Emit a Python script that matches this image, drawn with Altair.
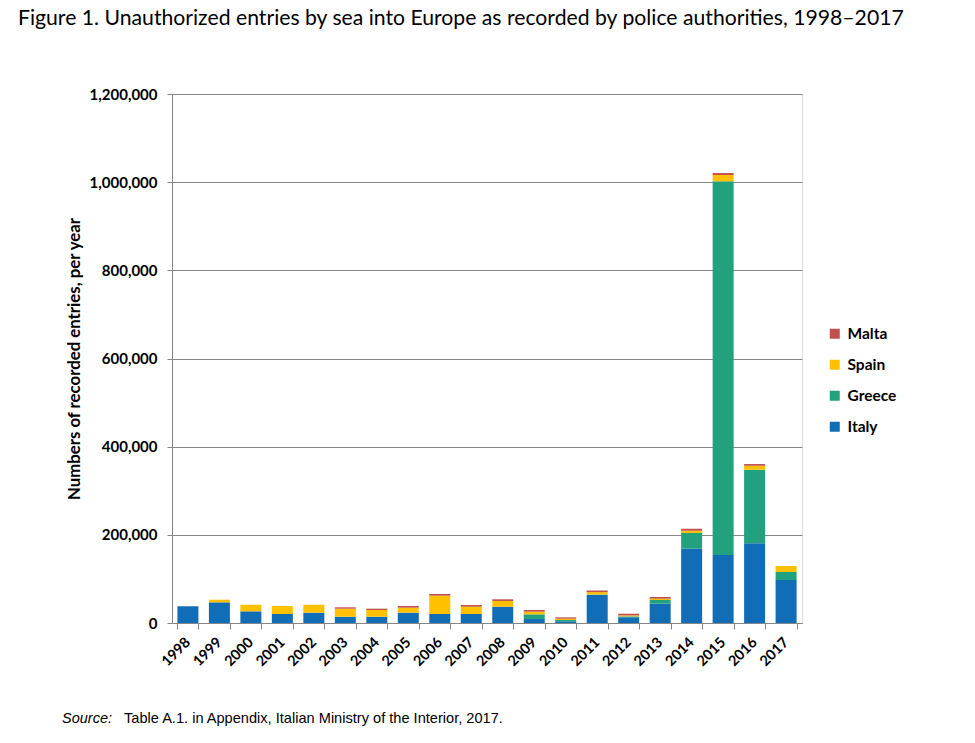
import altair as alt
import pandas as pd

years = [str(y) for y in range(1998, 2018)]
italy = [38000, 46900, 26500, 20400, 23400, 14300, 14300, 23400, 20400, 20400,
         37000, 9000, 3900, 63500, 13000, 43800, 168500, 154200, 180700, 97500]
greece = [0, 0, 0, 0, 0, 0, 0, 0, 0, 0,
          0, 10700, 2900, 1000, 2000, 8400, 35600, 847700, 167000, 18200]
spain = [0, 5900, 15000, 18100, 18100, 18200, 15200, 11400, 41600, 16600,
         13000, 6000, 3000, 5500, 2200, 3000, 5300, 14300, 9100, 13600]
malta = [0, 0, 0, 0, 0, 3100, 3000, 3700, 3800, 3800,
         3700, 3800, 3000, 3700, 3800, 3800, 4500, 4500, 3800, 0]

countries = ["Italy", "Greece", "Spain", "Malta"]
series = {"Italy": italy, "Greece": greece, "Spain": spain, "Malta": malta}
legend_order = ["Malta", "Spain", "Greece", "Italy"]
colors = ["#C0504D", "#FFC000", "#22A17F", "#116EB6"]

rows = []
for ci, c in enumerate(countries):
    for y, v in zip(years, series[c]):
        rows.append({"year": y, "country": c, "value": v, "ord": ci})
df = pd.DataFrame(rows)

FONT = "Lato"

bars = alt.Chart(df).mark_bar(size=21).encode(
    x=alt.X("year:N", sort=years, title=None,
            scale=alt.Scale(paddingInner=0.33, paddingOuter=0.17),
            axis=alt.Axis(labelAngle=-45, labelAlign="right", labelBaseline="middle",
                          labelFont=FONT, labelFontWeight="bold", labelFontSize=14.5,
                          labelColor="#000000", domainColor="#868686", tickColor="#868686",
                          tickSize=6, tickBand="extent", labelPadding=11)),
    y=alt.Y("value:Q", title="Numbers of recorded entries, per year",
            scale=alt.Scale(domain=[0, 1200000], nice=False),
            axis=alt.Axis(values=[0, 200000, 400000, 600000, 800000, 1000000, 1200000],
                          labelExpr="format(datum.value, ',')",
                          labelFont=FONT, labelFontWeight="bold",
                          labelFontSize=15, labelColor="#000000",
                          titleFont=FONT, titleFontWeight="bold", titleFontSize=16.8,
                          titleColor="#000000", titlePadding=6,
                          domainColor="#868686", tickColor="#868686", tickSize=5,
                          grid=True, gridColor="#868686", gridWidth=1, labelPadding=10)),
    color=alt.Color("country:N",
                    scale=alt.Scale(domain=legend_order, range=colors),
                    legend=alt.Legend(title=None, orient="none", legendX=655, legendY=232,
                                      symbolType="square", symbolSize=100,
                                      symbolStrokeWidth=0, labelFont=FONT,
                                      labelFontWeight="bold", labelFontSize=15.5,
                                      labelColor="#000000", rowPadding=14,
                                      labelOffset=5)),
    order=alt.Order("ord:Q", sort="ascending"),
)

src_df = pd.DataFrame({"t": ["Source:"]})
src1 = alt.Chart(src_df).mark_text(
    font="Liberation Sans", fontSize=14.5, fontStyle="italic", align="left",
    baseline="middle", color="#000000"
).encode(x=alt.value(-110), y=alt.value(625), text="t:N")

src_df2 = pd.DataFrame({"t": ["Table A.1. in Appendix, Italian Ministry of the Interior, 2017."]})
src2 = alt.Chart(src_df2).mark_text(
    font="Liberation Sans", fontSize=14.6, align="left", baseline="middle", color="#000000"
).encode(x=alt.value(-48), y=alt.value(625), text="t:N")

chart = alt.layer(bars, src1, src2).properties(
    width=630, height=529,
    title=alt.TitleParams(
        "Figure 1. Unauthorized entries by sea into Europe as recorded by police authorities, 1998–2017",
        font=FONT, fontSize=21.2, fontWeight="normal", color="#000000",
        anchor="start", frame="group", dx=-154, offset=58),
    autosize=alt.AutoSizeParams(type="none"),
    padding={"left": 172, "top": 94, "right": 173, "bottom": 120},
).configure_view(stroke=None).configure(background="#FFFFFF")

chart.save("out.html", embed_options={"renderer": "svg", "actions": False})
